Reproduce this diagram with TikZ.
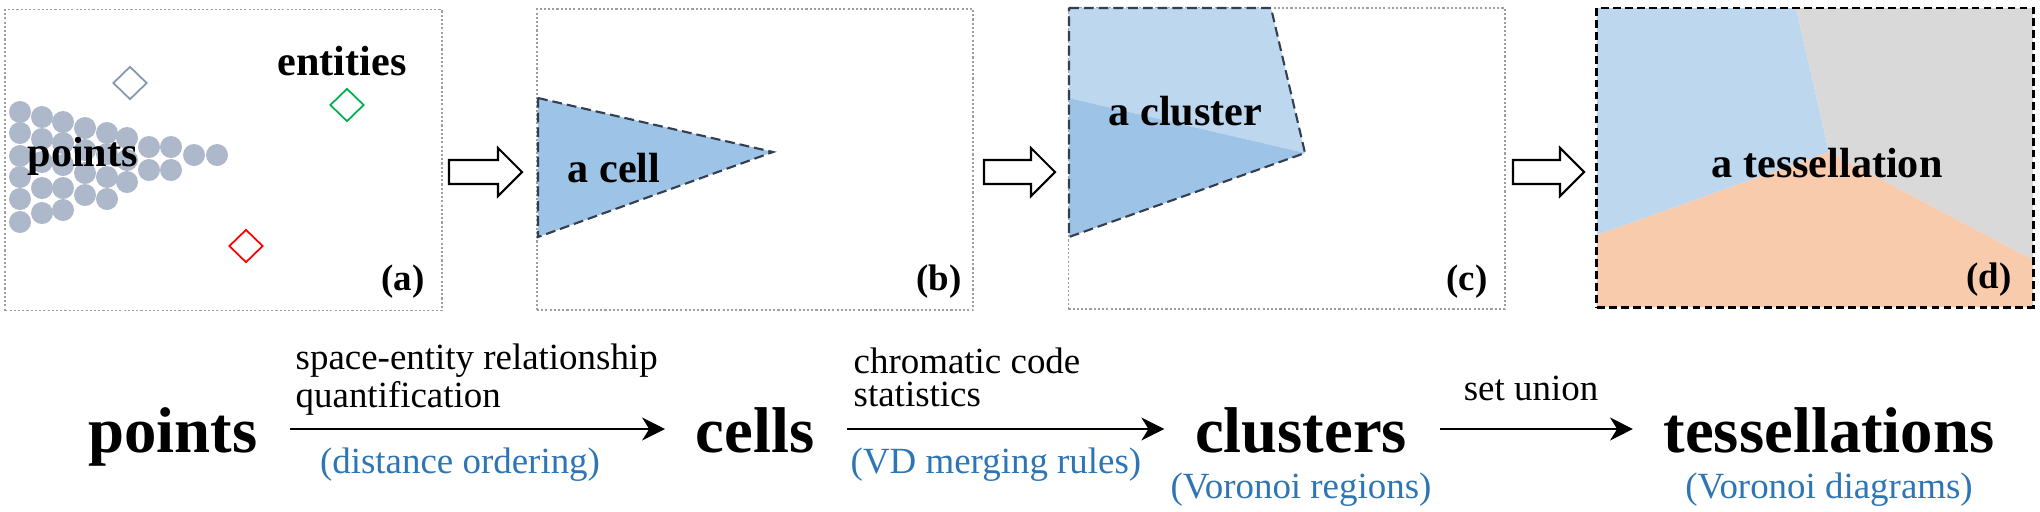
\documentclass[tikz,border=0pt]{standalone}
\usepackage{fontspec}
\setmainfont{Liberation Serif}
\usetikzlibrary{arrows.meta,positioning,shapes.geometric}

\definecolor{ptgray}{HTML}{ADB9CA}
\definecolor{entgray}{HTML}{8497B0}
\definecolor{entgreen}{HTML}{00B050}
\definecolor{entred}{HTML}{FF0000}
\definecolor{cellblue}{HTML}{9DC3E6}
\definecolor{lightblue}{HTML}{BDD7EE}
\definecolor{regiongray}{HTML}{D9D9D9}
\definecolor{regionorange}{HTML}{F8CBAD}
\definecolor{edgedark}{HTML}{333F50}
\definecolor{capblue}{HTML}{2E75B6}

\tikzset{
  panel/.style={draw=gray!75, line width=0.5pt, dash pattern=on 0.6pt off 0.6pt,
    minimum width=4.36cm, minimum height=3.01cm, inner sep=0pt},
  entity/.style={diamond, draw, line width=0.5pt, minimum width=0.34cm,
    minimum height=0.33cm, inner sep=0pt},
  inlabel/.style={inner sep=0pt, font=\fontsize{12}{14}\selectfont\bfseries},
  tag/.style={inner sep=0pt, font=\fontsize{10.5}{12}\selectfont\bfseries},
  word/.style={inner sep=0pt, font=\fontsize{18.4}{22}\selectfont\bfseries},
  note/.style={inner sep=0pt, align=left, font=\fontsize{10.5}{9.4}\selectfont},
  bluecap/.style={inner sep=0pt, text=capblue, font=\fontsize{10.5}{12}\selectfont},
  celledge/.style={draw=edgedark, line width=0.6pt, dash pattern=on 2.8pt off 1.4pt},
  blockarr/.style={draw=black, line width=0.6pt, fill=white},
  flow/.style={-{Stealth[length=6.5pt,width=6.5pt,inset=2pt]}, line width=0.7pt,
    shorten <=0.32cm, shorten >=0.30cm}
}

\begin{document}
\begin{tikzpicture}[x=0.01cm,y=-0.01cm]
  \useasboundingbox (0,0) rectangle (2040,511);

  % (a) points and entities
  \node[panel] (pa) at (223.5,160) {};
  \foreach \cx/\cy in {20/112,20/133,20/156,20/177,20/199,20/222,
      42/117,42/139,42/162,42/188,42/213, 63/122,63/143,63/165,63/188,63/210,
      85/128,85/150,85/173,85/195, 107/133,107/154,107/177,107/199,
      127/138,127/160,127/182, 149/147,149/170, 171/147,171/170, 194/155, 217/155}
    \fill[ptgray] (\cx,\cy) circle (11);
  \node[entity, draw=entgray] (e1) at (130,83) {};
  \node[entity, draw=entgreen] (e2) at (347,105) {};
  \node[entity, draw=entred] (e3) at (246,246) {};
  \node[inlabel, anchor=base] (ent) at (342,75) {entities};
  \node[inlabel, anchor=base west] (pin) at (27,166) {points};
  \node[tag, anchor=base east] (ta) at (425,290) {(a)};

  % (b) a cell
  \node[panel] (pb) at (755,159.5) {};
  \fill[cellblue] (538,98) -- (773,152) -- (538,237) -- cycle;
  \draw[celledge] (538,98) -- (773,152) -- (538,237) -- cycle;
  \node[inlabel, anchor=base west] (cel) at (567,182) {a cell};
  \node[tag, anchor=base east] (tb) at (962,290) {(b)};

  % (c) a cluster
  \node[panel] (pc) at (1286.5,158.5) {};
  \fill[lightblue] (1069,8) -- (1271,8) -- (1305,153) -- (1069,98) -- cycle;
  \fill[cellblue] (1069,98) -- (1305,153) -- (1069,237) -- cycle;
  \draw[celledge] (1069,8) -- (1271,8) -- (1305,153) -- (1069,237) -- cycle;
  \node[inlabel, anchor=base west] (clu1) at (1108,125) {a cluster};
  \node[tag, anchor=base east] (tc) at (1488,290) {(c)};

  % (d) a tessellation
  \fill[lightblue] (1597,8) -- (1796,8) -- (1829,152) -- (1597,235) -- cycle;
  \fill[regiongray] (1796,8) -- (2033,8) -- (2033,260) -- (1829,152) -- cycle;
  \fill[regionorange] (1597,235) -- (1829,152) -- (2033,260) -- (2033,307) -- (1597,307) -- cycle;
  \node[panel, draw=black, line width=0.8pt, dash pattern=on 2.2pt off 1.2pt,
    minimum height=2.99cm] (pd) at (1815,157.5) {};
  \node[inlabel, anchor=base] (tes1) at (1827,177) {a tessellation};
  \node[tag, anchor=base east] (td) at (2012,288) {(d)};

  % block arrows between panels
  \foreach \xa/\xb in {449/522, 984/1055, 1513/1584}
    \draw[blockarr] (\xa,160) -- ({\xb-24},160) -- ({\xb-24},148) -- (\xb,172)
      -- ({\xb-24},196) -- ({\xb-24},184) -- (\xa,184) -- cycle;

  % pipeline
  \node[word, anchor=base] (pts) at (173,452) {points};
  \node[word, anchor=base] (cells) at (755,452) {cells};
  \node[word, anchor=base] (clu) at (1301,452) {clusters};
  \node[word, anchor=base] (tes) at (1829,452) {tessellations};

  \draw[flow] ([yshift=0.23cm]pts.base east) -- ([yshift=0.23cm]cells.base west);
  \draw[flow] ([yshift=0.23cm]cells.base east) -- ([yshift=0.23cm]clu.base west);
  \draw[flow] ([yshift=0.23cm]clu.base east) -- ([yshift=0.23cm]tes.base west);

  \node[note, anchor=south west] (q1) at (295,416) {space-entity relationship\\quantification};
  \node[note, anchor=south west] (q2) at (853,408) {chromatic code\\statistics};
  \node[note, anchor=base] (q3) at (1531,400) {set union};

  \node[bluecap, anchor=base] (c1) at (460,473) {(distance ordering)};
  \node[bluecap, anchor=base] (c2) at (996,473) {(VD merging rules)};
  \node[bluecap, below=0.19cm of clu] (c3) {(Voronoi regions)};
  \node[bluecap, below=0.19cm of tes] (c4) {(Voronoi diagrams)};
\end{tikzpicture}
\end{document}
